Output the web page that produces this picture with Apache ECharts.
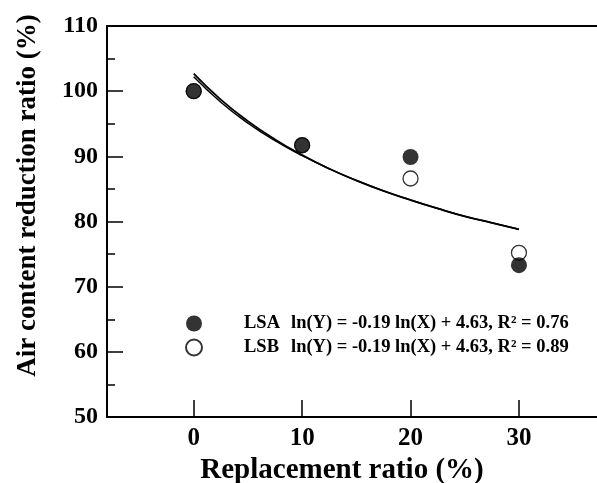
<!DOCTYPE html>
<html>
<head>
<meta charset="utf-8">
<script src="https://cdn.jsdelivr.net/npm/echarts@6/dist/echarts.min.js"></script>
<style>
  html, body { margin: 0; padding: 0; background: #fff; }
  #chart { width: 597px; height: 483px; }
</style>
</head>
<body>
<div id="chart"></div>
<script>
// measured points
const ratios = [0, 10, 20, 30];
const lsaValues = [100, 91.7, 89.9, 73.3];
const lsbValues = [100, 91.7, 86.6, 75.2];

// fitted curves
const fitX = [0, 2.5, 5, 7.5, 10, 12.5, 15, 17.5, 20, 22.5, 25, 27.5, 30];
const lsaFit = [102.7, 98.7, 95.4, 92.6, 90.2, 88.1, 86.3, 84.7, 83.3, 82.0, 80.8, 79.8, 78.8];
const lsbFit = [102.2, 98.3, 95.1, 92.4, 90.1, 88.1, 86.3, 84.7, 83.3, 82.0, 80.8, 79.8, 78.8];

const equations = {
  LSA: "ln(Y) = -0.19 ln(X) + 4.63, R\u00b2 = 0.76",
  LSB: "ln(Y) = -0.19 ln(X) + 4.63, R\u00b2 = 0.89",
};

const font = "Liberation Serif";
const chart = echarts.init(document.getElementById("chart"));

chart.setOption({
  animation: false,
  backgroundColor: "#fff",
  textStyle: { fontFamily: font, color: "#000" },
  grid: { left: 107, right: 0, top: 26, bottom: 66, outerBoundsMode: "none", containLabel: false },
  legend: {
    data: ["LSA", "LSB"],
    orient: "vertical",
    left: 185,
    top: 314,
    padding: 0,
    itemWidth: 16,
    itemHeight: 16,
    itemGap: 5,
    icon: "circle",
    formatter: (name) => "{n|" + name + "}" + equations[name],
    textStyle: {
      fontFamily: font,
      fontWeight: "bold",
      fontSize: 18.5,
      color: "#000",
      padding: [0, 0, 0, 37],
      rich: {
        n: { fontFamily: font, fontWeight: "bold", fontSize: 18.5, width: 47 },
      },
    },
  },
  xAxis: [
    {
      type: "value",
      min: -8,
      max: 37.2,
      name: "Replacement ratio (%)",
      nameLocation: "middle",
      nameGap: 37,
      nameTextStyle: {
        fontFamily: font,
        fontWeight: "bold",
        fontSize: 29,
        color: "#000",
        padding: [0, 20, 0, 0],
      },
      axisLine: { show: true, onZero: false, lineStyle: { color: "#000", width: 2 } },
      axisTick: { show: true, inside: true, length: 17, lineStyle: { color: "#000", width: 1.5 } },
      axisLabel: {
        showMinLabel: false,
        showMaxLabel: false,
        margin: 9,
        fontFamily: font,
        fontWeight: "bold",
        fontSize: 25,
        color: "#000",
      },
      splitLine: { show: false },
    },
    {
      type: "value",
      position: "top",
      min: -8,
      max: 37.2,
      axisLine: { show: true, onZero: false, lineStyle: { color: "#000", width: 2 } },
      axisTick: { show: false },
      axisLabel: { show: false },
      splitLine: { show: false },
    },
  ],
  yAxis: {
    type: "value",
    min: 50,
    max: 110,
    interval: 10,
    name: "Air content reduction ratio (%)",
    nameLocation: "middle",
    nameGap: 65,
    nameTextStyle: {
      fontFamily: font,
      fontWeight: "bold",
      fontSize: 27,
      color: "#000",
      padding: [0, 0, 0, 52],
    },
    axisLine: { show: true, onZero: false, lineStyle: { color: "#000", width: 2 } },
    axisTick: { show: true, inside: true, length: 16, lineStyle: { color: "#000", width: 1.5 } },
    minorTick: { show: true, splitNumber: 2, length: 8, lineStyle: { color: "#000", width: 1.5 } },
    axisLabel: { margin: 9, fontFamily: font, fontWeight: "bold", fontSize: 24, color: "#000" },
    splitLine: { show: false },
  },
  series: [
    {
      name: "fitA",
      type: "line",
      smooth: true,
      showSymbol: false,
      silent: true,
      lineStyle: { color: "#000", width: 1.8 },
      data: fitX.map((x, i) => [x, lsaFit[i]]),
      z: 1,
    },
    {
      name: "fitB",
      type: "line",
      smooth: true,
      showSymbol: false,
      silent: true,
      lineStyle: { color: "#000", width: 1.5 },
      data: fitX.map((x, i) => [x, lsbFit[i]]),
      z: 1,
    },
    {
      name: "LSB",
      type: "scatter",
      symbol: "circle",
      symbolSize: 15,
      itemStyle: { color: "#fff", borderColor: "#000", borderWidth: 1.3 },
      data: ratios.map((x, i) => [x, lsbValues[i]]),
      z: 2,
    },
    {
      name: "LSA",
      type: "scatter",
      symbol: "circle",
      symbolSize: 16,
      itemStyle: { color: "#000" },
      data: ratios.map((x, i) => [x, lsaValues[i]]),
      z: 3,
    },
  ],
});
</script>
</body>
</html>
